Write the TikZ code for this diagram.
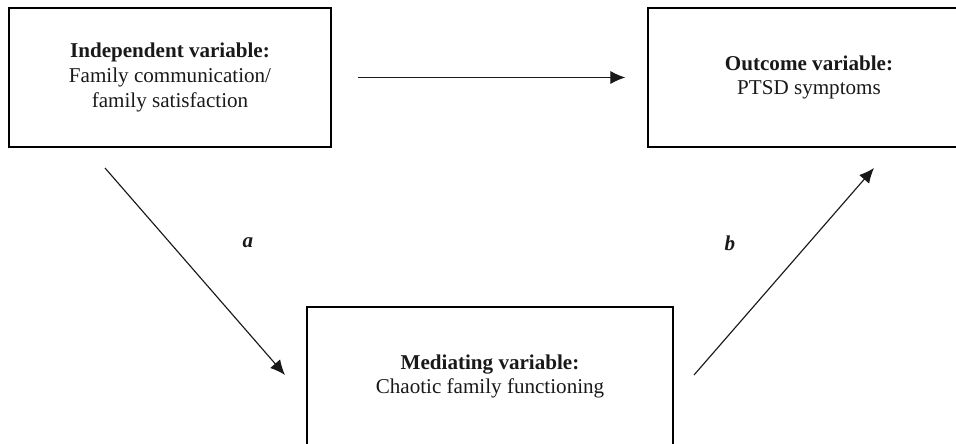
\documentclass[tikz,border=0pt]{standalone}
\usepackage{fontspec}
\setmainfont{Liberation Serif}
\usetikzlibrary{arrows.meta}
\tikzset{>={Latex[length=8.5pt,width=7.5pt]}}
\tikzstyle{varbox} = [draw, line width=0.8, align=center, minimum height=2.78cm, font=\fontsize{12}{14}\selectfont, text=black!90]
\tikzstyle{path} = [->, line width=0.65, black!90]
\tikzstyle{pathlabel} = [font=\fontsize{12}{14}\selectfont\bfseries\itshape, text=black!90]

\begin{document}
\begin{tikzpicture}
		% Frame
		\useasboundingbox (0,0) rectangle (19.12,8.86);
		\clip (0,0) rectangle (19.12,8.86);
		
		% Boxes
		\node[varbox, minimum width=6.44cm] (indep) at (3.4,7.31) {\textbf{Independent variable:}\\Family communication/\\family satisfaction};
		\node[varbox, minimum width=6.44cm] (outcome) at (16.18,7.31) {\textbf{Outcome variable:}\\PTSD symptoms};
		\node[varbox, minimum width=7.32cm] (mediator) at (9.8,1.33) {\textbf{Mediating variable:}\\Chaotic family functioning};
		
		% Coordinates
		\coordinate (A1) at (2.1,5.5);
		\coordinate (A2) at (5.7,1.36);
		\coordinate (B1) at (13.88,1.36);
		\coordinate (B2) at (17.48,5.5);
		
		% Paths
		\draw[path, shorten <=0.52cm, shorten >=0.44cm] (indep.east) -- (outcome.west);
		\draw[path] (A1) -- (A2);
		\draw[path] (B1) -- (B2);
		
		% Labels
		\node[pathlabel] (a) at (4.96,4.0) {a};
		\node[pathlabel] (b) at (14.6,4.0) {b};
	\end{tikzpicture}
\end{document}
